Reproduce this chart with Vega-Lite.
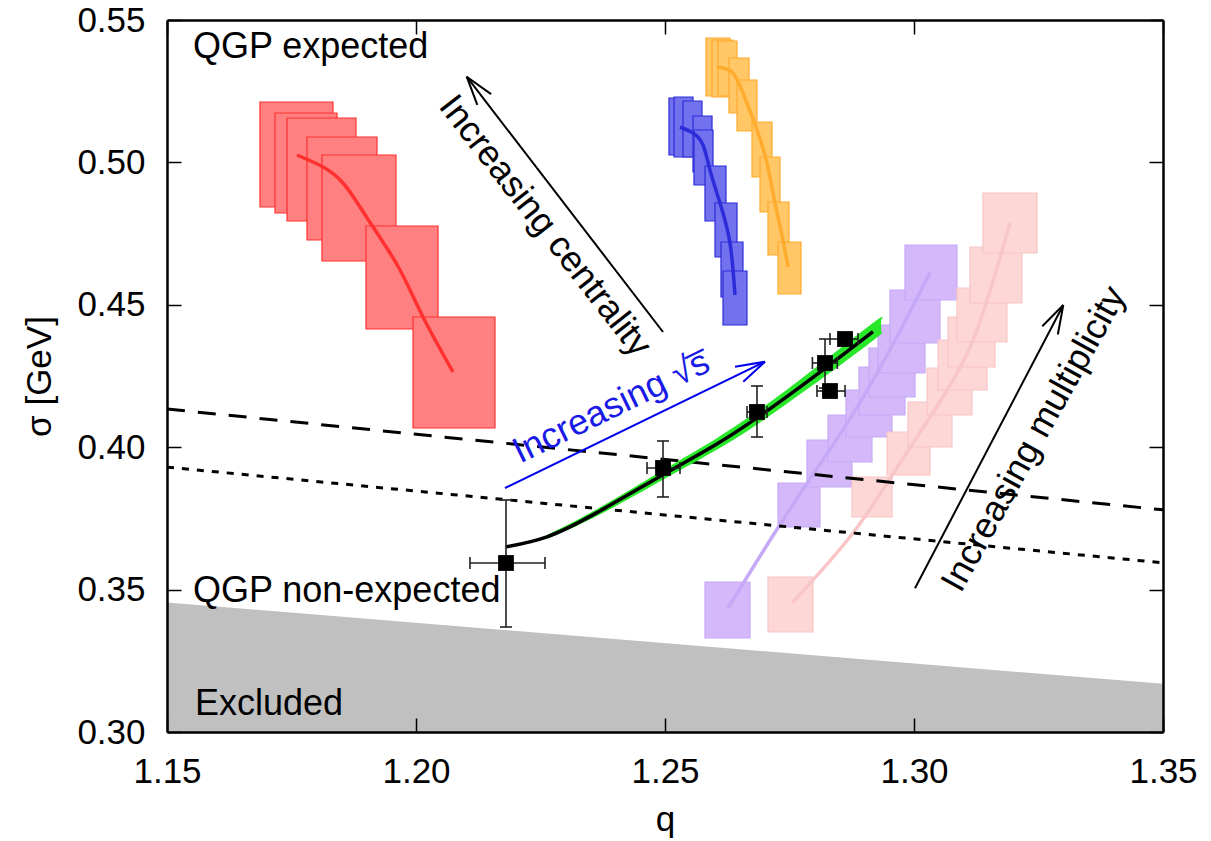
{
 "$schema": "https://vega.github.io/schema/vega-lite/v6.json",
 "width": 996, "height": 712,
 "autosize": {"type": "none"},
 "padding": {"left": 167, "top": 20, "right": 48, "bottom": 109},
 "background": "white",
 "config": {
  "view": {"stroke": null},
  "font": "Liberation Sans",
  "axis": {"grid": false, "domainColor": "black", "domainWidth": 2.5, "tickColor": "black", "tickWidth": 1.5, "tickSize": -14,
   "labelFont": "Liberation Sans", "labelFontSize": 35, "labelColor": "black", "labelPadding": 36,
   "titleFont": "Liberation Sans", "titleFontSize": 35, "titleFontWeight": "normal", "titleColor": "black",
   "labelFlush": false, "labelOverlap": false}
 },
 "datasets": {
  "excl": [{"q": 1.15, "s": 0.3455}, {"q": 1.35, "s": 0.3169}],
  "boxes": [
   {"g":"red","q":1.16867,"q2":1.18333,"s":0.48434,"s2":0.52121},
   {"g":"red","q":1.17169,"q2":1.18414,"s":0.48223,"s2":0.51735},
   {"g":"red","q":1.17410,"q2":1.18795,"s":0.47942,"s2":0.51559},
   {"g":"red","q":1.17811,"q2":1.19217,"s":0.47275,"s2":0.50892},
   {"g":"red","q":1.18112,"q2":1.19598,"s":0.46538,"s2":0.50260},
   {"g":"red","q":1.18996,"q2":1.20442,"s":0.44150,"s2":0.47767},
   {"g":"red","q":1.19940,"q2":1.21586,"s":0.40674,"s2":0.44572},
   {"g":"blue","q":1.25080,"q2":1.25542,"s":0.50260,"s2":0.52261},
   {"g":"blue","q":1.25181,"q2":1.25562,"s":0.50190,"s2":0.52296},
   {"g":"blue","q":1.25361,"q2":1.25743,"s":0.50190,"s2":0.52156},
   {"g":"blue","q":1.25562,"q2":1.25944,"s":0.49663,"s2":0.51629},
   {"g":"blue","q":1.25582,"q2":1.25964,"s":0.49207,"s2":0.51138},
   {"g":"blue","q":1.25803,"q2":1.26225,"s":0.47942,"s2":0.49874},
   {"g":"blue","q":1.26004,"q2":1.26446,"s":0.46679,"s2":0.48575},
   {"g":"blue","q":1.26124,"q2":1.26566,"s":0.45274,"s2":0.47205},
   {"g":"blue","q":1.26165,"q2":1.26646,"s":0.44291,"s2":0.46187},
   {"g":"orange","q":1.25823,"q2":1.26305,"s":0.52331,"s2":0.54368},
   {"g":"orange","q":1.25944,"q2":1.26365,"s":0.52296,"s2":0.54298},
   {"g":"orange","q":1.26064,"q2":1.26446,"s":0.52331,"s2":0.54263},
   {"g":"orange","q":1.26285,"q2":1.26687,"s":0.51735,"s2":0.53666},
   {"g":"orange","q":1.26446,"q2":1.26847,"s":0.51103,"s2":0.52893},
   {"g":"orange","q":1.26747,"q2":1.27149,"s":0.49487,"s2":0.51419},
   {"g":"orange","q":1.26908,"q2":1.27309,"s":0.48259,"s2":0.50190},
   {"g":"orange","q":1.27068,"q2":1.27490,"s":0.46749,"s2":0.48610},
   {"g":"orange","q":1.27269,"q2":1.27731,"s":0.45379,"s2":0.47205},
   {"g":"purple","q":1.25803,"q2":1.26707,"s":0.33301,"s2":0.35267},
   {"g":"purple","q":1.27269,"q2":1.28112,"s":0.37198,"s2":0.38743},
   {"g":"purple","q":1.27851,"q2":1.28755,"s":0.38603,"s2":0.40253},
   {"g":"purple","q":1.28273,"q2":1.29156,"s":0.39481,"s2":0.41131},
   {"g":"purple","q":1.28634,"q2":1.29558,"s":0.40358,"s2":0.42009},
   {"g":"purple","q":1.28895,"q2":1.29819,"s":0.41131,"s2":0.42816},
   {"g":"purple","q":1.29096,"q2":1.30020,"s":0.41763,"s2":0.43483},
   {"g":"purple","q":1.29277,"q2":1.30221,"s":0.42606,"s2":0.44291},
   {"g":"purple","q":1.29518,"q2":1.30522,"s":0.43659,"s2":0.45520},
   {"g":"purple","q":1.29819,"q2":1.30863,"s":0.45169,"s2":0.47100},
   {"g":"pink","q":1.27068,"q2":1.27972,"s":0.33512,"s2":0.35443},
   {"g":"pink","q":1.28755,"q2":1.29558,"s":0.37549,"s2":0.38954},
   {"g":"pink","q":1.29458,"q2":1.30321,"s":0.39024,"s2":0.40534},
   {"g":"pink","q":1.29879,"q2":1.30763,"s":0.40007,"s2":0.41587},
   {"g":"pink","q":1.30261,"q2":1.31164,"s":0.41131,"s2":0.42781},
   {"g":"pink","q":1.30482,"q2":1.31466,"s":0.42009,"s2":0.43764},
   {"g":"pink","q":1.30682,"q2":1.31626,"s":0.42816,"s2":0.44572},
   {"g":"pink","q":1.30863,"q2":1.31867,"s":0.43694,"s2":0.45590},
   {"g":"pink","q":1.31124,"q2":1.32168,"s":0.45063,"s2":0.47030},
   {"g":"pink","q":1.31385,"q2":1.32470,"s":0.46819,"s2":0.48926}
  ],
  "curves": [
   {"g":"red","q":1.17610,"s":0.50260},{"g":"red","q":1.18133,"s":0.49839},{"g":"red","q":1.18534,"s":0.49277},{"g":"red","q":1.18876,"s":0.48434},{"g":"red","q":1.19217,"s":0.47521},{"g":"red","q":1.19679,"s":0.46222},{"g":"red","q":1.20141,"s":0.44572},{"g":"red","q":1.20743,"s":0.42641},
   {"g":"blue","q":1.25301,"s":0.51243},{"g":"blue","q":1.25562,"s":0.51032},{"g":"blue","q":1.25763,"s":0.50611},{"g":"blue","q":1.25903,"s":0.49733},{"g":"blue","q":1.26104,"s":0.48575},{"g":"blue","q":1.26305,"s":0.47170},{"g":"blue","q":1.26405,"s":0.45344},
   {"g":"orange","q":1.26044,"s":0.53350},{"g":"orange","q":1.26345,"s":0.53174},{"g":"orange","q":1.26566,"s":0.52437},{"g":"orange","q":1.26847,"s":0.51138},{"g":"orange","q":1.27048,"s":0.49979},{"g":"orange","q":1.27209,"s":0.48575},{"g":"orange","q":1.27369,"s":0.47275},{"g":"orange","q":1.27470,"s":0.46327},
   {"g":"purple","q":1.26265,"s":0.34354},{"g":"purple","q":1.27369,"s":0.37444},{"g":"purple","q":1.28373,"s":0.40077},{"g":"purple","q":1.29056,"s":0.41987},{"g":"purple","q":1.29719,"s":0.44080},{"g":"purple","q":1.30321,"s":0.46134},
   {"g":"pink","q":1.27550,"s":0.34530},{"g":"pink","q":1.28775,"s":0.36988},{"g":"pink","q":1.29719,"s":0.39445},{"g":"pink","q":1.30582,"s":0.41763},{"g":"pink","q":1.31265,"s":0.44115},{"g":"pink","q":1.31927,"s":0.47872}
  ],
  "refl": [
   {"g":"dashed","q":1.15,"s":0.4134},{"g":"dashed","q":1.35,"s":0.3780},
   {"g":"dotted","q":1.15,"s":0.3930},{"g":"dotted","q":1.35,"s":0.3594}
  ],
  "band": [
   {"q":1.2263,"lo":0.3678,"hi":0.3692},
   {"q":1.2363,"lo":0.3758,"hi":0.3782},
   {"q":1.2496,"lo":0.3886,"hi":0.3920},
   {"q":1.2596,"lo":0.3983,"hi":0.4023},
   {"q":1.2685,"lo":0.4080,"hi":0.4126},
   {"q":1.2797,"lo":0.4218,"hi":0.4272},
   {"q":1.2918,"lo":0.4375,"hi":0.4437},
   {"q":1.2934,"lo":0.4403,"hi":0.4447}
  ],
  "fit": [
   {"q":1.21807,"s":0.36500},{"q":1.22630,"s":0.36853},{"q":1.23634,"s":0.37703},{"q":1.24960,"s":0.39033},{"q":1.25964,"s":0.40033},{"q":1.26847,"s":0.41030},{"q":1.27972,"s":0.42452},{"q":1.29177,"s":0.44061}
  ],
  "pts": [
   {"q":1.21807,"s":0.35934,"ql":1.21084,"qh":1.22590,"sl":0.33687,"sh":0.38146},
   {"q":1.24960,"s":0.39270,"ql":1.24639,"qh":1.25301,"sl":0.38252,"sh":0.40218},
   {"q":1.26847,"s":0.41236,"ql":1.26647,"qh":1.27048,"sl":0.40358,"sh":0.42149},
   {"q":1.28213,"s":0.42957,"ql":1.27960,"qh":1.28460,"sl":0.42079,"sh":0.43799},
   {"q":1.28313,"s":0.41973,"ql":1.28052,"qh":1.28615,"sl":0.41873,"sh":0.42073},
   {"q":1.28615,"s":0.43799,"ql":1.28313,"qh":1.28876,"sl":0.43649,"sh":0.43949}
  ],
  "arrowsK": [
   {"q":1.24960,"s":0.44045,"q2":1.21018,"s2":0.53009},
   {"q":1.21018,"s":0.53009,"q2":1.21508,"s2":0.52398},
   {"q":1.21018,"s":0.53009,"q2":1.21231,"s2":0.52022},
   {"q":1.30020,"s":0.35046,"q2":1.32998,"s2":0.44993},
   {"q":1.32998,"s":0.44993,"q2":1.32888,"s2":0.43957},
   {"q":1.32998,"s":0.44993,"q2":1.32576,"s2":0.44245}
  ],
  "arrowsB": [
   {"q":1.21787,"s":0.38567,"q2":1.27008,"s2":0.43002},
   {"q":1.27008,"s":0.43002,"q2":1.26406,"s2":0.42826},
   {"q":1.27008,"s":0.43002,"q2":1.26572,"s2":0.42300}
  ],
  "texts": [
   {"t":"QGP expected","q":1.1552,"s":0.5367},
   {"t":"QGP non-expected","q":1.1552,"s":0.3456},
   {"t":"Excluded","q":1.1556,"s":0.3060}
  ],
  "tCent": [{"t":"Increasing centrality","q":1.2259,"s":0.4777}],
  "tSqrt": [{"t":"Increasing √s̅","q":1.2392,"s":0.4141}],
  "tMult": [{"t":"Increasing multiplicity","q":1.3241,"s":0.4029}]
 },
 "resolve": {"axis": {"x": "independent", "y": "independent"}},
 "layer": [
  {"data":{"name":"excl"},"mark":{"type":"area","color":"#c0c0c0"},
   "encoding":{
    "x":{"field":"q","type":"quantitative","scale":{"domain":[1.15,1.35],"nice":false,"zero":false},
     "axis":{"orient":"bottom","values":[1.15,1.2,1.25,1.3,1.35],"format":".2f","title":"q","titleX":498,"titleY":98,"titleBaseline":"alphabetic","titleAlign":"center","zindex":1}},
    "y":{"field":"s","type":"quantitative","scale":{"domain":[0.3,0.55],"nice":false,"zero":false},
     "axis":{"orient":"left","values":[0.3,0.35,0.4,0.45,0.5,0.55],"format":".2f","title":"σ [GeV]","titleX":-110,"titleY":356,"titleAngle":-90,"titleAlign":"center","titleBaseline":"bottom","zindex":1}},
    "y2":{"datum":0.3}}},
  {"data":{"name":"boxes"},"mark":{"type":"rect","strokeWidth":1.2},
   "encoding":{
    "x":{"field":"q","type":"quantitative","scale":{"domain":[1.15,1.35],"nice":false,"zero":false},"axis":null},
    "x2":{"field":"q2"},
    "y":{"field":"s","type":"quantitative","scale":{"domain":[0.3,0.55],"nice":false,"zero":false},"axis":null},
    "y2":{"field":"s2"},
    "fill":{"field":"g","type":"nominal","scale":{"domain":["red","blue","orange","purple","pink"],"range":["#ff8080","#7272ef","#ffc766","#d4b8fa","#fdd6d6"]},"legend":null},
    "stroke":{"field":"g","type":"nominal","scale":{"domain":["red","blue","orange","purple","pink"],"range":["#ff3030","#2c2cd8","#ffab2e","#c6a9f6","#f8c6c6"]},"legend":null}}},
  {"data":{"name":"curves"},"mark":{"type":"line","strokeWidth":3.5,"interpolate":"natural"},
   "encoding":{
    "x":{"field":"q","type":"quantitative","scale":{"domain":[1.15,1.35],"nice":false,"zero":false},"axis":null},
    "y":{"field":"s","type":"quantitative","scale":{"domain":[0.3,0.55],"nice":false,"zero":false},"axis":null},
    "stroke":{"field":"g","type":"nominal","scale":{"domain":["red","blue","orange","purple","pink"],"range":["#ff0000","#0000f0","#ffa500","#a47ff4","#f8b4b4"]},"legend":null}}},
  {"data":{"name":"refl"},"mark":{"type":"line","strokeWidth":3,"color":"black"},
   "encoding":{
    "x":{"field":"q","type":"quantitative","scale":{"domain":[1.15,1.35],"nice":false,"zero":false},
     "axis":{"orient":"top","values":[1.15,1.2,1.25,1.3,1.35],"labels":false,"title":null,"zindex":1}},
    "y":{"field":"s","type":"quantitative","scale":{"domain":[0.3,0.55],"nice":false,"zero":false},
     "axis":{"orient":"right","values":[0.3,0.35,0.4,0.45,0.5,0.55],"labels":false,"title":null,"zindex":1}},
    "strokeDash":{"field":"g","type":"nominal","scale":{"domain":["dashed","dotted"],"range":[[18,13],[7,8]]},"legend":null}}},
  {"data":{"name":"band"},"mark":{"type":"area","color":"#1ee61e","opacity":0.95,"interpolate":"natural"},
   "encoding":{
    "x":{"field":"q","type":"quantitative","scale":{"domain":[1.15,1.35],"nice":false,"zero":false},"axis":null},
    "y":{"field":"lo","type":"quantitative","scale":{"domain":[0.3,0.55],"nice":false,"zero":false},"axis":null},
    "y2":{"field":"hi"}}},
  {"data":{"name":"fit"},"mark":{"type":"line","strokeWidth":3.5,"color":"black","interpolate":"natural"},
   "encoding":{
    "x":{"field":"q","type":"quantitative","scale":{"domain":[1.15,1.35],"nice":false,"zero":false},"axis":null},
    "y":{"field":"s","type":"quantitative","scale":{"domain":[0.3,0.55],"nice":false,"zero":false},"axis":null}}},
  {"data":{"name":"pts"},"mark":{"type":"rule","color":"#222222","strokeWidth":1.6},
   "encoding":{
    "x":{"field":"ql","type":"quantitative","scale":{"domain":[1.15,1.35],"nice":false,"zero":false},"axis":null},
    "x2":{"field":"qh"},
    "y":{"field":"s","type":"quantitative","scale":{"domain":[0.3,0.55],"nice":false,"zero":false},"axis":null}}},
  {"data":{"name":"pts"},"mark":{"type":"rule","color":"#222222","strokeWidth":1.6},
   "encoding":{
    "x":{"field":"q","type":"quantitative","scale":{"domain":[1.15,1.35],"nice":false,"zero":false},"axis":null},
    "y":{"field":"sl","type":"quantitative","scale":{"domain":[0.3,0.55],"nice":false,"zero":false},"axis":null},
    "y2":{"field":"sh"}}},
  {"data":{"name":"pts"},"mark":{"type":"tick","orient":"vertical","size":12,"thickness":1.6,"color":"#222222","opacity":1},
   "encoding":{
    "x":{"field":"ql","type":"quantitative","scale":{"domain":[1.15,1.35],"nice":false,"zero":false},"axis":null},
    "y":{"field":"s","type":"quantitative","scale":{"domain":[0.3,0.55],"nice":false,"zero":false},"axis":null}}},
  {"data":{"name":"pts"},"mark":{"type":"tick","orient":"vertical","size":12,"thickness":1.6,"color":"#222222","opacity":1},
   "encoding":{
    "x":{"field":"qh","type":"quantitative","scale":{"domain":[1.15,1.35],"nice":false,"zero":false},"axis":null},
    "y":{"field":"s","type":"quantitative","scale":{"domain":[0.3,0.55],"nice":false,"zero":false},"axis":null}}},
  {"data":{"name":"pts"},"mark":{"type":"tick","orient":"horizontal","size":12,"thickness":1.6,"color":"#222222","opacity":1},
   "encoding":{
    "x":{"field":"q","type":"quantitative","scale":{"domain":[1.15,1.35],"nice":false,"zero":false},"axis":null},
    "y":{"field":"sl","type":"quantitative","scale":{"domain":[0.3,0.55],"nice":false,"zero":false},"axis":null}}},
  {"data":{"name":"pts"},"mark":{"type":"tick","orient":"horizontal","size":12,"thickness":1.6,"color":"#222222","opacity":1},
   "encoding":{
    "x":{"field":"q","type":"quantitative","scale":{"domain":[1.15,1.35],"nice":false,"zero":false},"axis":null},
    "y":{"field":"sh","type":"quantitative","scale":{"domain":[0.3,0.55],"nice":false,"zero":false},"axis":null}}},
  {"data":{"name":"pts"},"mark":{"type":"square","size":250,"color":"black","opacity":1,"filled":true},
   "encoding":{
    "x":{"field":"q","type":"quantitative","scale":{"domain":[1.15,1.35],"nice":false,"zero":false},"axis":null},
    "y":{"field":"s","type":"quantitative","scale":{"domain":[0.3,0.55],"nice":false,"zero":false},"axis":null}}},
  {"data":{"name":"arrowsK"},"mark":{"type":"rule","color":"black","strokeWidth":2},
   "encoding":{
    "x":{"field":"q","type":"quantitative","scale":{"domain":[1.15,1.35],"nice":false,"zero":false},"axis":null},
    "x2":{"field":"q2"},
    "y":{"field":"s","type":"quantitative","scale":{"domain":[0.3,0.55],"nice":false,"zero":false},"axis":null},
    "y2":{"field":"s2"}}},
  {"data":{"name":"arrowsB"},"mark":{"type":"rule","color":"#0000ee","strokeWidth":2},
   "encoding":{
    "x":{"field":"q","type":"quantitative","scale":{"domain":[1.15,1.35],"nice":false,"zero":false},"axis":null},
    "x2":{"field":"q2"},
    "y":{"field":"s","type":"quantitative","scale":{"domain":[0.3,0.55],"nice":false,"zero":false},"axis":null},
    "y2":{"field":"s2"}}},
  {"data":{"name":"texts"},"mark":{"type":"text","align":"left","baseline":"alphabetic","fontSize":36,"font":"Liberation Sans","color":"black"},
   "encoding":{
    "x":{"field":"q","type":"quantitative","scale":{"domain":[1.15,1.35],"nice":false,"zero":false},"axis":null},
    "y":{"field":"s","type":"quantitative","scale":{"domain":[0.3,0.55],"nice":false,"zero":false},"axis":null},
    "text":{"field":"t"}}},
  {"data":{"name":"tCent"},"mark":{"type":"text","align":"center","baseline":"middle","fontSize":36,"font":"Liberation Sans","color":"black","angle":52},
   "encoding":{
    "x":{"field":"q","type":"quantitative","scale":{"domain":[1.15,1.35],"nice":false,"zero":false},"axis":null},
    "y":{"field":"s","type":"quantitative","scale":{"domain":[0.3,0.55],"nice":false,"zero":false},"axis":null},
    "text":{"field":"t"}}},
  {"data":{"name":"tSqrt"},"mark":{"type":"text","align":"center","baseline":"middle","fontSize":36,"font":"Liberation Sans","color":"#1a1ae6","angle":-26},
   "encoding":{
    "x":{"field":"q","type":"quantitative","scale":{"domain":[1.15,1.35],"nice":false,"zero":false},"axis":null},
    "y":{"field":"s","type":"quantitative","scale":{"domain":[0.3,0.55],"nice":false,"zero":false},"axis":null},
    "text":{"field":"t"}}},
  {"data":{"name":"tMult"},"mark":{"type":"text","align":"center","baseline":"middle","fontSize":36,"font":"Liberation Sans","color":"black","angle":-61},
   "encoding":{
    "x":{"field":"q","type":"quantitative","scale":{"domain":[1.15,1.35],"nice":false,"zero":false},"axis":null},
    "y":{"field":"s","type":"quantitative","scale":{"domain":[0.3,0.55],"nice":false,"zero":false},"axis":null},
    "text":{"field":"t"}}}
 ]
}
